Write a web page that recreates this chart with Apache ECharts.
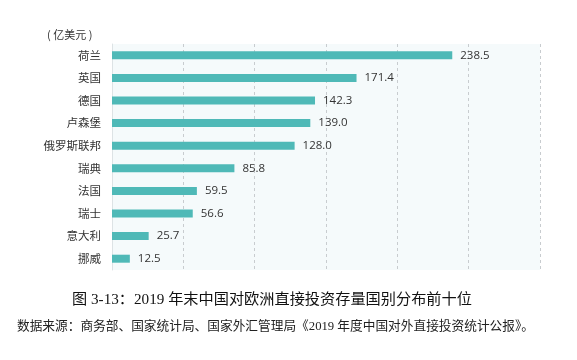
<!DOCTYPE html>
<html>
<head>
<meta charset="utf-8">
<script src="https://cdn.jsdelivr.net/npm/echarts@6/dist/echarts.min.js"></script>
<style>html,body{margin:0;padding:0;background:#fff}#c{width:577px;height:360px}</style>
</head>
<body>
<div id="c"></div>
<script>
const categories = ['荷兰','英国','德国','卢森堡','俄罗斯联邦','瑞典','法国','瑞士','意大利','挪威'];
const values = [238.5,171.4,142.3,139.0,128.0,85.8,59.5,56.6,25.7,12.5];
const unitLabel = '( 亿美元 )';
const titleText = '图 3-13：2019 年末中国对欧洲直接投资存量国别分布前十位';
const sourceText = '数据来源：商务部、国家统计局、国家外汇管理局《2019 年度中国对外直接投资统计公报》。';

const chart = echarts.init(document.getElementById('c'), null, {renderer:'canvas'});
chart.setOption({
  backgroundColor:'#fff',
  animation:false,
  grid:{left:112,right:37,top:44,bottom:90,show:true,backgroundColor:'#f5fafb',borderWidth:0},
  xAxis:{type:'value',min:0,max:300,interval:50,
    axisLabel:{show:false},axisTick:{show:false},axisLine:{show:false},
    splitLine:{show:true,lineStyle:{color:'#c8cccf',type:[3,3],width:1}}},
  yAxis:{type:'category',data:categories,inverse:true,
    axisTick:{show:false},
    axisLine:{show:true,lineStyle:{color:'#dde3e5'}},
    axisLabel:{color:'#333',fontSize:11.5,margin:11,fontFamily:'Noto Sans CJK SC'}},
  series:[{type:'bar',data:values,barWidth:8,
    itemStyle:{color:'#4fb9b7'},
    label:{show:true,position:'right',distance:8,color:'#333',fontSize:11.5,
      fontFamily:'Open Sans, Noto Sans',formatter:p=>p.value.toFixed(1)}}],
  graphic:[
    {type:'text',left:47,top:29,style:{text:unitLabel,fontSize:11,fill:'#333',fontFamily:'Noto Sans CJK SC'}},
    {type:'text',left:72,top:292,style:{text:titleText,fontSize:15.2,fill:'#111',fontFamily:'Liberation Serif, Noto Sans CJK SC'}},
    {type:'text',left:17,top:320,style:{text:sourceText,fontSize:12.7,fill:'#222',fontFamily:'Liberation Serif, Noto Sans CJK SC'}}
  ]
});
</script>
</body>
</html>
